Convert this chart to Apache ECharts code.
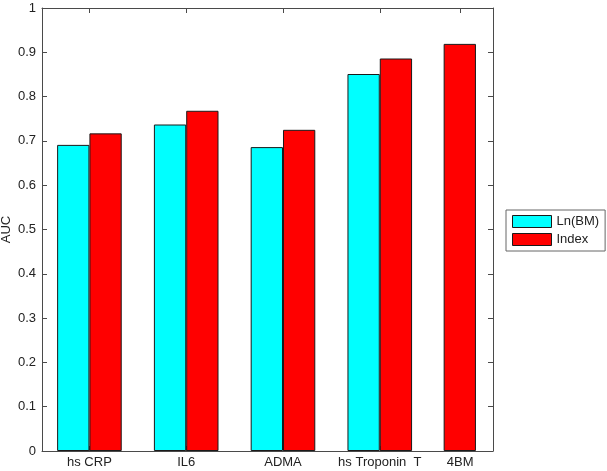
<!DOCTYPE html>
<html>
<head>
<meta charset="utf-8">
<script src="https://cdn.jsdelivr.net/npm/echarts@6/dist/echarts.min.js"></script>
<style>
html,body{margin:0;padding:0;background:#fff;}
#c{width:607px;height:471px;}
</style>
</head>
<body>
<div id="c"></div>
<script>
const categories = ['hs CRP', 'IL6', 'ADMA', 'hs Troponin  T', '4BM'];
const groupPositions = [1, 2, 3, 4, 4.66];
const labelPositions = [1, 2, 3, 4, 4.83];
const lnBM = [0.691, 0.737, 0.686, 0.851, null];
const indexVals = [0.717, 0.768, 0.725, 0.886, 0.919];
const yTicks = [0, 0.1, 0.2, 0.3, 0.4, 0.5, 0.6, 0.7, 0.8, 0.9, 1];

const font = 'Liberation Sans, Arial, sans-serif';
const txt = '#222';
const lineCol = '#4a4a4a';

function pairs(vals) {
  const out = [];
  vals.forEach((v, i) => { if (v !== null) out.push([groupPositions[i], v]); });
  return out;
}
function labelFor(v) {
  for (let i = 0; i < labelPositions.length; i++) {
    if (Math.abs(labelPositions[i] - v) < 1e-6) return categories[i];
  }
  return '';
}

const chart = echarts.init(document.getElementById('c'), null, {renderer: 'canvas'});
chart.setOption({
  animation: false,
  backgroundColor: '#fff',
  textStyle: {fontFamily: font},
  grid: {left: 42, right: 114, top: 8, bottom: 20, containLabel: false, outerBoundsMode: 'none'},
  legend: {
    orient: 'vertical',
    left: 506, top: 210,
    padding: [5, 6, 5, 6],
    icon: 'rect',
    itemWidth: 39, itemHeight: 12, itemGap: 5,
    itemStyle: {borderWidth: 1, borderColor: '#1a1a1a'},
    borderColor: '#666', borderWidth: 1,
    textStyle: {fontFamily: font, fontSize: 13, color: txt, padding: [0, 0, 0, 0]},
    data: ['Ln(BM)', 'Index']
  },
  xAxis: [
    {
      type: 'value', position: 'bottom', min: 0.51, max: 5.17,
      splitLine: {show: false},
      axisLine: {show: true, onZero: false, lineStyle: {color: lineCol, width: 1}},
      axisTick: {show: true, inside: true, length: 5, customValues: labelPositions, lineStyle: {color: lineCol}},
      axisLabel: {show: true, customValues: labelPositions, formatter: labelFor, color: txt, fontSize: 13, fontFamily: font, margin: 5}
    },
    {
      type: 'value', position: 'top', min: 0.51, max: 5.17,
      splitLine: {show: false},
      axisLine: {show: true, onZero: false, lineStyle: {color: lineCol, width: 1}},
      axisTick: {show: true, inside: true, length: 5, customValues: labelPositions, lineStyle: {color: lineCol}},
      axisLabel: {show: false}
    }
  ],
  yAxis: [
    {
      type: 'value', position: 'left', min: 0, max: 1, interval: 0.1,
      name: 'AUC', nameLocation: 'middle', nameGap: 29, nameRotate: 90,
      nameMoveOverlap: false,
      nameTextStyle: {fontFamily: font, fontSize: 13, color: txt},
      splitLine: {show: false},
      axisLine: {show: true, onZero: false, lineStyle: {color: lineCol, width: 1}},
      axisTick: {show: true, inside: true, length: 5, lineStyle: {color: lineCol}},
      axisLabel: {color: txt, fontSize: 13, fontFamily: font, margin: 6,
        formatter: v => String(Math.round(v * 10) / 10)}
    },
    {
      type: 'value', position: 'right', min: 0, max: 1, interval: 0.1,
      splitLine: {show: false},
      axisLine: {show: true, onZero: false, lineStyle: {color: lineCol, width: 1}},
      axisTick: {show: true, inside: true, length: 5, lineStyle: {color: lineCol}},
      axisLabel: {show: false}
    }
  ],
  series: [
    {
      name: 'Ln(BM)', type: 'bar', xAxisIndex: 0, yAxisIndex: 0,
      barWidth: 32.3, barGap: '0%',
      itemStyle: {color: '#00FFFF', borderColor: '#1a1a1a', borderWidth: 1},
      data: pairs(lnBM)
    },
    {
      name: 'Index', type: 'bar', xAxisIndex: 0, yAxisIndex: 0,
      barWidth: 32.3, barGap: '0%',
      itemStyle: {color: '#FF0000', borderColor: '#1a1a1a', borderWidth: 1},
      data: pairs(indexVals)
    }
  ]
});
</script>
</body>
</html>
